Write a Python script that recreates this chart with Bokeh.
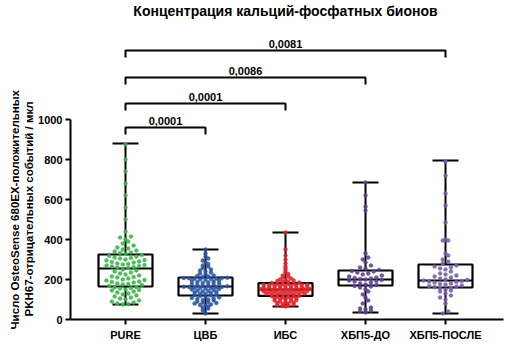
import numpy as np
from bokeh.plotting import figure
from bokeh.models import FixedTicker, ColumnDataSource, Title
from bokeh.embed import file_html
from bokeh.resources import INLINE
from bokeh.core.properties import value

# ---------------- data ----------------
title_text = "Концентрация кальций-фосфатных бионов"
y_label_lines = ["Число OsteoSense 680EX-положительных", "PKH67-отрицательных событий / мкл"]
categories = ["PURE", "ЦВБ", "ИБС", "ХБП5-ДО", "ХБП5-ПОСЛЕ"]
dot_colors = ["#3db54b", "#2c55a4", "#e2242b", "#5f4190", "#7b5fa9"]
y_ticks = [0, 200, 400, 600, 800, 1000]

box_min = [75, 30, 65, 35, 30]
box_q1 = [165, 120, 118, 170, 160]
box_med = [255, 165, 150, 200, 195]
box_q3 = [325, 210, 182, 245, 275]
box_max = [880, 350, 435, 685, 795]

pure = [75, 78, 80, 85, 90, 95, 100, 105, 110, 115, 120, 125, 130, 135, 140, 145, 148, 150, 155, 158, 160, 163,
        168, 172, 175, 178, 180, 185, 188, 190, 195, 198, 200, 205, 210, 212, 215, 220, 225, 230, 235, 240, 245, 250,
        258, 260, 262, 265, 268, 270, 272, 275, 278, 280, 285, 288, 290, 295, 298, 300, 305, 308, 310, 315, 318, 322,
        328, 332, 335, 340, 345, 350, 355, 360, 370, 380, 390, 400, 410, 415, 440, 500, 560, 620, 680, 740, 800, 876]
cvb = [30, 45, 55, 60, 65, 70, 72, 75, 80, 82, 85, 88, 90, 95, 98, 100, 103, 105, 108, 110, 115, 118,
       121, 123, 125, 127, 130, 132, 135, 137, 140, 142, 145, 147, 150, 152, 155, 157, 158, 160, 161, 162, 163, 164,
       166, 168, 170, 172, 175, 178, 180, 182, 185, 187, 190, 192, 195, 197, 200, 202, 204, 205, 206, 207, 208, 209,
       212, 215, 218, 220, 225, 230, 235, 240, 245, 250, 258, 265, 270, 278, 285, 295, 305, 315, 330, 350]
ibs = [65, 68, 70, 72, 75, 78, 80, 82, 85, 88, 90, 92, 95, 97, 100, 102, 104, 106, 108, 110, 112, 114, 116, 118, 119,
       121, 122, 124, 125, 126, 128, 129, 130, 132, 133, 134, 136, 137, 138, 140, 141, 142, 143, 144, 145, 146, 147, 148, 149,
       151, 152, 153, 154, 155, 156, 158, 159, 160, 161, 162, 164, 165, 166, 168, 169, 170, 171, 172, 174, 175, 176, 177, 178, 179,
       182, 185, 188, 190, 192, 195, 198, 200, 205, 210, 215, 220, 228, 235, 245, 255, 265, 280, 300, 320, 350, 435]
ckd_before = [35, 40, 45, 50, 55, 60, 80, 95, 110, 125, 140, 150, 160, 165, 168, 172, 175, 180, 185, 190, 192, 195,
              198, 200, 202, 205, 208, 210, 215, 220, 225, 230, 235, 240, 242, 248, 255, 260, 270, 285, 300, 310, 330,
              545, 565, 620, 685]
ckd_after = [30, 40, 80, 100, 110, 120, 130, 140, 145, 150, 155, 158, 162, 165, 168, 170, 175, 178, 180, 185, 188, 190,
             192, 195, 198, 200, 205, 210, 215, 220, 225, 230, 240, 250, 255, 260, 265, 270, 280, 290, 300, 320, 330,
             395, 395, 400, 485, 570, 630, 720, 790]
groups = [pure, cvb, ibs, ckd_before, ckd_after]

cmp_left = [0, 0, 0, 0]
cmp_right = [1, 2, 3, 4]
cmp_height = [960, 1080, 1210, 1345]
cmp_labels = ["0,0001", "0,0001", "0,0086", "0,0081"]

# ---------------- layout helpers ----------------
BIN = [25, 14, 11, 25, 25]   # row height (data units) of the bee swarm
DX = 0.068                   # horizontal dot spacing (category units)


def swarm(vals, binsize, dx):
    rows = {}
    for v in sorted(vals):
        rows.setdefault(int(v // binsize), []).append(v)
    xs, ys = [], []
    for _, vs in sorted(rows.items()):
        n = len(vs)
        offs = (np.arange(n) - (n - 1) / 2.0) * dx
        order = np.argsort(np.abs(offs), kind="stable")
        for k, i in enumerate(order):
            xs.append(offs[i])
            ys.append(vs[k])
    return xs, ys


FONT = "Liberation Sans"
p = figure(width=505, height=354, output_backend="svg", toolbar_location=None,
           x_range=(-0.6875, 4.725), y_range=(0, 1595),
           min_border_left=70, min_border_right=2, min_border_top=0, min_border_bottom=35)
p.grid.visible = False
p.outline_line_color = None

pos = np.arange(len(categories), dtype=float)
BW = 0.3375
CW = 0.1625

# whiskers
p.segment(x0=pos, y0=box_q3, x1=pos, y1=box_max, line_color="black", line_width=2)
p.segment(x0=pos, y0=box_min, x1=pos, y1=box_q1, line_color="black", line_width=2)
p.segment(x0=pos - CW, y0=box_max, x1=pos + CW, y1=box_max, line_color="black", line_width=2.2)
p.segment(x0=pos - CW, y0=box_min, x1=pos + CW, y1=box_min, line_color="black", line_width=2.2)
# boxes
p.quad(left=pos - BW, right=pos + BW, bottom=box_q1, top=box_q3,
       fill_alpha=0, line_color="black", line_width=2.2)
p.segment(x0=pos - BW, y0=box_med, x1=pos + BW, y1=box_med, line_color="black", line_width=2.2)

# dots
for i, vals in enumerate(groups):
    xs, ys = swarm(vals, BIN[i], DX)
    src = ColumnDataSource(dict(x=np.array(xs) + pos[i], y=ys))
    p.scatter("x", "y", source=src, size=4, fill_color=dot_colors[i], line_color=dot_colors[i],
              line_width=0.3, fill_alpha=0.9)

# significance brackets
drop = 35
bx = [[pos[a], pos[a], pos[b], pos[b]] for a, b in zip(cmp_left, cmp_right)]
by = [[h - drop, h, h, h - drop] for h in cmp_height]
p.multi_line(xs=bx, ys=by, line_color="black", line_width=2)
p.text(x=[(pos[a] + pos[b]) / 2 for a, b in zip(cmp_left, cmp_right)],
       y=[h + 12 for h in cmp_height], text=cmp_labels,
       text_align="center", text_baseline="bottom", text_font=value(FONT),
       text_font_size="11px", text_font_style="bold", text_color="black")

# title
p.text(x=[2.0], y=[1545], text=[title_text], text_align="center", text_baseline="middle",
       text_font=value(FONT), text_font_size="14px", text_font_style="bold", text_color="black")

# y-axis title: two rotated lines in the left panel (inner line first)
for line, off in ((y_label_lines[1], 3), (y_label_lines[0], -10)):
    p.add_layout(Title(text=line, align="left", offset=off, text_font=FONT, text_font_style="bold",
                       text_font_size="11.5px", text_color="black", standoff=0,
                       vertical_align="middle"), "left")

# axes
p.xaxis.ticker = FixedTicker(ticks=list(pos))
p.xaxis.major_label_overrides = {float(i): c for i, c in enumerate(categories)}
p.xaxis.major_label_overrides.update({int(i): c for i, c in enumerate(categories)})
p.yaxis.ticker = FixedTicker(ticks=y_ticks)
p.yaxis.bounds = (0, 1000)
for ax in (p.xaxis, p.yaxis):
    ax.axis_line_width = 2
    ax.major_tick_line_width = 2
    ax.major_tick_in = 0
    ax.major_tick_out = 5
    ax.minor_tick_line_color = None
    ax.major_label_text_font = FONT
    ax.major_label_text_font_style = "bold"
    ax.major_label_text_font_size = "11px"
    ax.major_label_text_color = "black"
    ax.axis_line_color = "black"
    ax.major_tick_line_color = "black"
p.yaxis.major_label_standoff = 3
p.xaxis.major_label_standoff = 4

open("out.html", "w").write(file_html(p, INLINE))
